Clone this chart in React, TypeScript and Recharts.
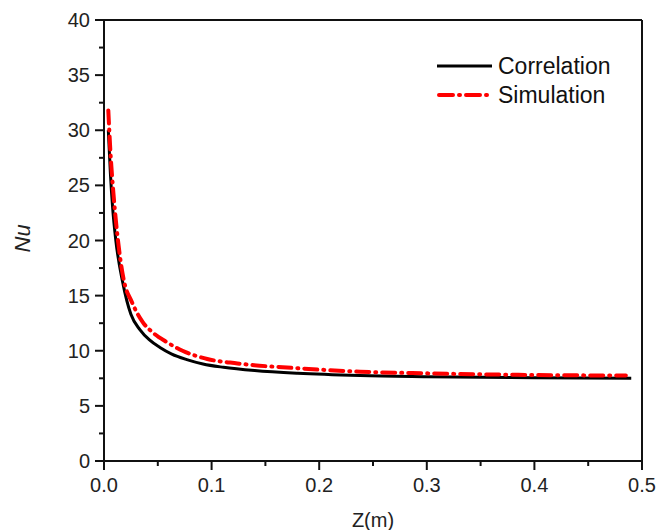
import { Line, LineChart, XAxis, YAxis } from "recharts";

// Z (m) positions and Nu values
const correlationZ = [0.004, 0.006, 0.008, 0.011, 0.0174, 0.025, 0.0335, 0.042, 0.052, 0.063, 0.077, 0.092, 0.111, 0.14, 0.18, 0.238, 0.3, 0.4, 0.49];
const correlationNu = [30, 26, 23, 20, 16.2, 13.3, 11.9, 11.0, 10.3, 9.7, 9.2, 8.8, 8.5, 8.2, 7.95, 7.75, 7.65, 7.55, 7.5];

const simulationZ = [0.004, 0.006, 0.009, 0.013, 0.018, 0.026, 0.036, 0.046, 0.058, 0.073, 0.096, 0.124, 0.182, 0.238, 0.3, 0.4, 0.485];
const simulationNu = [31.8, 28, 24, 20, 16.6, 14.4, 12.6, 11.6, 10.8, 10.0, 9.25, 8.85, 8.4, 8.1, 7.95, 7.8, 7.75];

const xTicks = [0, 0.05, 0.1, 0.15, 0.2, 0.25, 0.3, 0.35, 0.4, 0.45, 0.5];
const yTicks = [0, 2.5, 5, 7.5, 10, 12.5, 15, 17.5, 20, 22.5, 25, 27.5, 30, 32.5, 35, 37.5, 40];

const correlation = correlationZ.map((z, i) => ({ z, nu: correlationNu[i] }));
const simulation = simulationZ.map((z, i) => ({ z, nu: simulationNu[i] }));

const FONT = "'Liberation Sans', Arial, sans-serif";
const INK = "#111";
const SIM_DASH = "13 6 1 6";

const isMajorX = (v: number) => Math.abs(v * 10 - Math.round(v * 10)) < 1e-6;
const isMajorY = (v: number) => v % 5 === 0;

// side: where the tick sits; top/right frame ticks point inward
const makeTick =
  (side: "bottom" | "top" | "left" | "right") => (props: any) => {
    const { x, y, payload } = props;
    const v = payload.value as number;
    const major = side === "bottom" || side === "top" ? isMajorX(v) : isMajorY(v);
    const len = major ? 9 : 5;
    if (side === "bottom")
      return (
        <g>
          <line x1={x} y1={y} x2={x} y2={y + len} stroke={INK} strokeWidth={2} />
          {major && (
            <text x={x} y={y + 31} textAnchor="middle" fontSize={20} fill="#222" fontFamily={FONT}>
              {v.toFixed(1)}
            </text>
          )}
        </g>
      );
    if (side === "top")
      return <line x1={x} y1={y} x2={x} y2={y + len} stroke={INK} strokeWidth={2} />;
    if (side === "right")
      return <line x1={x} y1={y} x2={x - len} y2={y} stroke={INK} strokeWidth={2} />;
    return (
      <g>
        <line x1={x - len} y1={y} x2={x} y2={y} stroke={INK} strokeWidth={2} />
        {major && (
          <text x={x - 14} y={y + 7} textAnchor="end" fontSize={20} fill="#222" fontFamily={FONT}>
            {String(v)}
          </text>
        )}
      </g>
    );
  };

const LegendBox = () => (
  <svg width={200} height={60} style={{ position: "absolute", left: 437, top: 54 }}>
    <line x1={0} y1={12} x2={55} y2={12} stroke="#000" strokeWidth={3} />
    <text x={61} y={20} fontSize={23} fill="#111" fontFamily={FONT}>
      Correlation
    </text>
    <line
      x1={2}
      y1={41}
      x2={53}
      y2={41}
      stroke="#ff0000"
      strokeWidth={4}
      strokeDasharray="14 6 1 6"
      strokeLinecap="round"
    />
    <text x={61} y={49} fontSize={23} fill="#111" fontFamily={FONT}>
      Simulation
    </text>
  </svg>
);

export default function App() {
  return (
    <div style={{ position: "absolute", left: 0, top: 0, width: 672, height: 530, background: "#fff" }}>
      <LineChart width={672} height={530} margin={{ top: 10, right: 0, bottom: 0, left: 0 }}>
        <XAxis
          xAxisId="b"
          dataKey="z"
          type="number"
          domain={[0, 0.5]}
          ticks={xTicks}
          interval={0}
          allowDataOverflow
          height={69}
          axisLine={{ stroke: INK, strokeWidth: 2 }}
          tickLine={false}
          tickSize={0}
          tickMargin={0}
          tick={makeTick("bottom")}
          label={{ value: "Z(m)", position: "insideBottom", offset: 3, fontSize: 20, fill: "#222", fontFamily: FONT }}
        />
        <XAxis
          xAxisId="t"
          orientation="top"
          dataKey="z"
          type="number"
          domain={[0, 0.5]}
          ticks={xTicks}
          interval={0}
          height={10}
          axisLine={{ stroke: INK, strokeWidth: 2 }}
          tickLine={false}
          tickSize={0}
          tickMargin={0}
          tick={makeTick("top")}
        />
        <YAxis
          yAxisId="l"
          dataKey="nu"
          type="number"
          domain={[0, 40]}
          ticks={yTicks}
          interval={0}
          width={104}
          axisLine={{ stroke: INK, strokeWidth: 2 }}
          tickLine={false}
          tickSize={0}
          tickMargin={0}
          tick={makeTick("left")}
          label={{
            value: "Nu",
            angle: -90,
            position: "insideLeft",
            offset: 22,
            dy: 12,
            fontSize: 22,
            fontStyle: "italic",
            fill: "#222",
            fontFamily: FONT,
          }}
        />
        <YAxis
          yAxisId="r"
          orientation="right"
          dataKey="nu"
          type="number"
          domain={[0, 40]}
          ticks={yTicks}
          interval={0}
          width={30}
          axisLine={{ stroke: INK, strokeWidth: 2 }}
          tickLine={false}
          tickSize={0}
          tickMargin={0}
          tick={makeTick("right")}
        />
        <Line
          xAxisId="b"
          yAxisId="l"
          data={correlation}
          dataKey="nu"
          type="monotone"
          stroke="#000"
          strokeWidth={3}
          dot={false}
          isAnimationActive={false}
        />
        <Line
          xAxisId="b"
          yAxisId="l"
          data={simulation}
          dataKey="nu"
          type="monotone"
          stroke="#ff0000"
          strokeWidth={4}
          strokeDasharray={SIM_DASH}
          strokeLinecap="round"
          dot={false}
          isAnimationActive={false}
        />
      </LineChart>
      <LegendBox />
    </div>
  );
}
